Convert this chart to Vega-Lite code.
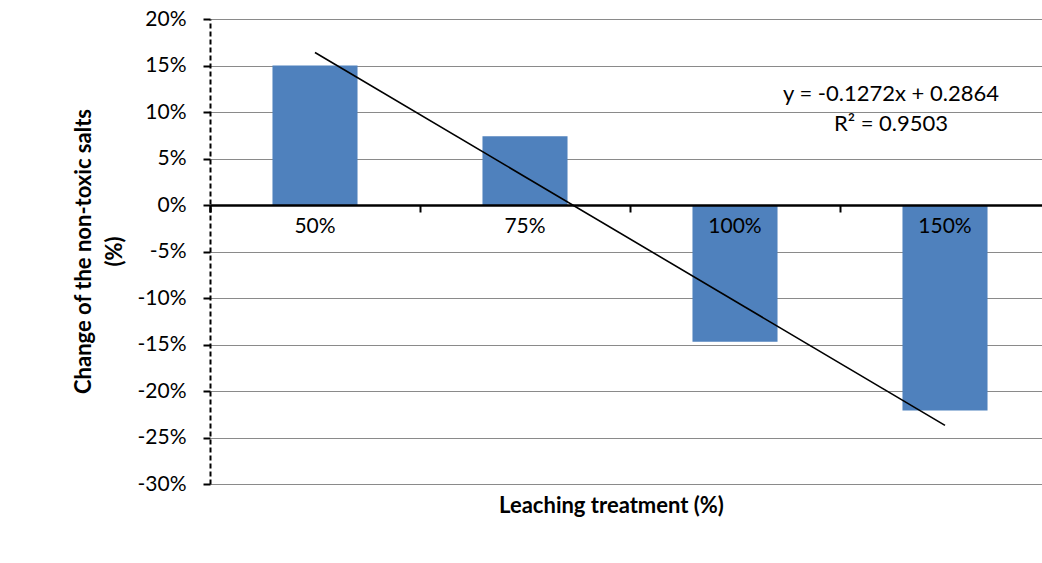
{
  "$schema": "https://vega.github.io/schema/vega-lite/v6.json",
  "autosize": {"type": "none"},
  "width": 832,
  "height": 465,
  "padding": {"left": 210, "top": 19, "right": 0, "bottom": 79},
  "background": "white",
  "config": {
    "font": "Lato",
    "view": {"stroke": null}
  },
  "datasets": {
    "bars": [
      {"treatment": "50%", "value": 0.15},
      {"treatment": "75%", "value": 0.074},
      {"treatment": "100%", "value": -0.147},
      {"treatment": "150%", "value": -0.221}
    ],
    "trend": [
      {"treatment": "50%", "value": 0.164},
      {"treatment": "150%", "value": -0.237}
    ],
    "equation": [
      {"treatment": "150%", "value": 0.119, "label": "y = -0.1272x + 0.2864"},
      {"treatment": "150%", "value": 0.087, "label": "R² = 0.9503"}
    ]
  },
  "encoding": {
    "x": {
      "field": "treatment",
      "type": "nominal",
      "sort": ["50%", "75%", "100%", "150%"],
      "scale": {"type": "band", "domain": ["50%", "75%", "100%", "150%"], "range": [0, 840], "paddingInner": 0, "paddingOuter": 0},
      "axis": {
        "title": "Leaching treatment (%)",
        "titleFont": "Lato",
        "titleFontSize": 22,
        "titleFontWeight": "bold",
        "titleColor": "#000000",
        "titleX": 401,
        "titleY": 300,
        "titleAlign": "center",
        "titleBaseline": "middle",
        "offset": -279,
        "domainColor": "#000000",
        "domainWidth": 2.5,
        "bandPosition": 0,
        "tickExtra": true,
        "tickColor": "#000000",
        "tickWidth": 2,
        "tickSize": 7,
        "labelAngle": 0,
        "labelFontSize": 21,
        "labelColor": "#000000",
        "labelPadding": 3,
        "labelBaseline": "top",
        "grid": false,
        "zindex": 2
      }
    },
    "y": {
      "field": "value",
      "type": "quantitative",
      "scale": {"domain": [-0.3, 0.2], "nice": false, "zero": false},
      "axis": {
        "title": ["Change of the non-toxic salts", "(%)"],
        "titleFont": "Lato",
        "titleFontSize": 22,
        "titleFontWeight": "bold",
        "titleColor": "#000000",
        "titleLineHeight": 31,
        "titleAngle": 270,
        "titleX": -120,
        "titleY": 232,
        "titleAlign": "center",
        "titleBaseline": "alphabetic",
        "values": [-0.3, -0.25, -0.2, -0.15, -0.1, -0.05, 0, 0.05, 0.1, 0.15, 0.2],
        "format": ".0%",
        "labelExpr": "replace(datum.label, '−', '-')",
        "labelFontSize": 21,
        "labelColor": "#000000",
        "labelPadding": 17,
        "tickColor": "#000000",
        "tickSize": 7,
        "tickWidth": 2,
        "domainColor": "#000000",
        "domainWidth": 2,
        "domainDash": [5, 3],
        "grid": true,
        "gridColor": "#8a8a8a",
        "gridWidth": 1.2,
        "zindex": 0
      }
    }
  },
  "layer": [
    {
      "data": {"name": "bars"},
      "mark": {"type": "bar", "color": "#4F81BD", "width": {"band": 0.405}}
    },
    {
      "data": {"name": "trend"},
      "mark": {"type": "line", "color": "#000000", "strokeWidth": 1.6}
    },
    {
      "data": {"name": "equation"},
      "mark": {"type": "text", "font": "Lato", "fontSize": 22, "color": "#000000", "align": "center", "baseline": "middle", "dx": -54},
      "encoding": {"text": {"field": "label", "type": "nominal"}}
    }
  ]
}
